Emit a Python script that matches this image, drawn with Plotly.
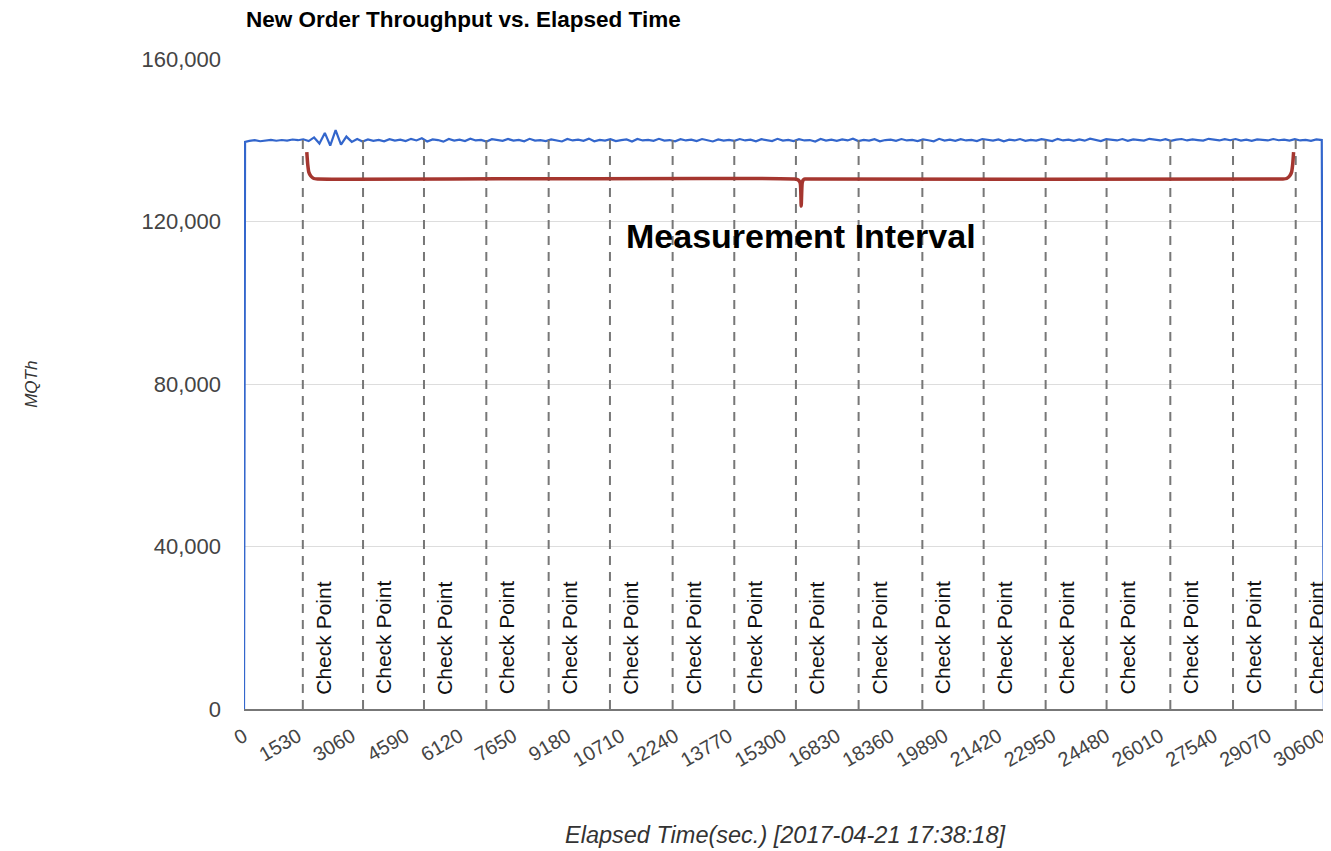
import plotly.graph_objects as go

FONT = "Arial, Liberation Sans, sans-serif"

# sample times (sec): start, ramp, regular 153-s samples, final drop
elapsed_sec = [0, 30] + list(range(153, 30601, 153)) + [30660]

throughput = [0, 139600,
    139850, 140020, 139760, 139940, 140110, 139880, 140060, 139920, 140180, 140010,
    140240, 139800, 140700, 139200, 141800, 138700, 142500, 138900, 140900, 139600,
    140300, 139700, 140200, 139850, 140100, 139750, 140250, 139900, 140150, 139800,
    140350, 139950, 140500, 139700, 140200, 140050, 139650, 140300, 139900, 140150,
    139800, 140400, 139950, 140100, 139700, 140250, 140000, 139850, 140300, 139900,
    140100, 139750, 140350, 139900, 140050, 139800, 140200, 140000, 139700, 140300,
    139950, 140150, 139850, 140400, 139750, 140100, 139900, 140250, 139800, 140050,
    140200, 139700, 140300, 139950, 140100, 139850, 140350, 139900, 140050, 139750,
    140250, 139950, 140150, 139800, 140300, 140000, 139700, 140200, 139900, 140100,
    139850, 140300, 139950, 140150, 139750, 140250, 140000, 139800, 140350, 139900,
    140100, 139800, 140250, 139950, 140050, 139700, 140300, 139900, 140150, 139850,
    140200, 139950, 140400, 139800, 140100, 139900, 140250, 139750, 140050, 140150,
    139850, 140300, 139950, 140100, 139800, 140200, 140000, 139750, 140350, 139900,
    140150, 139850, 140250, 139950, 140100, 139800, 140300, 140050, 139900, 140200,
    139750, 140150, 139950, 140300, 139850, 140100, 139900, 140250, 140000, 139800,
    140350, 139950, 140150, 139850, 140200, 139900, 140400, 140050, 139800, 140250,
    140100, 139950, 140300, 139850, 140200, 140000, 139900, 140350, 140100, 139950,
    140250, 139850, 140150, 140300, 139950, 140200, 140050, 139900, 140350, 140100,
    139950, 140250, 140000, 140300, 139900, 140150, 139850, 140200, 140050, 139950,
    140300, 140000, 140150, 139900, 140250, 139950, 140100, 139850, 140200, 140050,
    0]

x_ticks = [0, 1530, 3060, 4590, 6120, 7650, 9180, 10710, 12240, 13770, 15300,
           16830, 18360, 19890, 21420, 22950, 24480, 26010, 27540, 29070, 30600]
y_ticks = [0, 40000, 80000, 120000, 160000]

checkpoints = [1670, 3380, 5110, 6880, 8650, 10390, 12170, 13920, 15670,
               17450, 19260, 21000, 22760, 24490, 26300, 28080, 29860]
checkpoint_top = 140400
checkpoint_label = "Check Point"

brace_x = [1783, 1811, 1840, 1896, 1981, 2094,
           15622, 15735, 15791, 15820, 15848, 15876, 15905, 15961, 16074,
           29489, 29602, 29687, 29743, 29772, 29800]
brace_y = [137100, 133900, 132150, 131200, 130580, 130460,
           130460, 130210, 129470, 123810, 129470, 130210, 130460, 130460, 130460,
           130460, 130580, 131200, 132150, 133900, 137100]
brace_label = "Measurement Interval"
brace_label_y = 116400

title_text = "New Order Throughput vs. Elapsed Time"
x_title = "Elapsed Time(sec.) [2017-04-21 17:38:18]"
y_title = "MQTh"

fig = go.Figure()

fig.add_trace(go.Scatter(x=elapsed_sec, y=throughput, mode="lines",
                         line=dict(color="#3366cc", width=2.2), hoverinfo="skip"))

cp_x, cp_y = [], []
for c in checkpoints:
    cp_x += [c, c, None]
    cp_y += [0, checkpoint_top, None]
fig.add_trace(go.Scatter(x=cp_x, y=cp_y, mode="lines",
                         line=dict(color="#777777", width=2, dash="9px,7px"),
                         hoverinfo="skip"))

fig.add_trace(go.Scatter(x=brace_x, y=brace_y, mode="lines",
                         line=dict(color="#a5362f", width=3.5, shape="spline", smoothing=0.6),
                         hoverinfo="skip"))

annotations = []
for c in checkpoints:
    annotations.append(dict(x=c, y=17500, xref="x", yref="y", text=checkpoint_label,
                            textangle=-90, showarrow=False, xshift=21,
                            font=dict(family=FONT, size=21, color="#111111")))
annotations.append(dict(x=brace_x[9], y=brace_label_y, xref="x", yref="y",
                        text=brace_label, showarrow=False,
                        font=dict(family=FONT, size=34, color="#000000", weight="bold")))
annotations.append(dict(x=-0.197, y=0.5, xref="paper", yref="paper", text=y_title,
                        textangle=-90, showarrow=False, xanchor="center", yanchor="middle",
                        font=dict(family=FONT, size=17, color="#333333", style="italic")))
annotations.append(dict(x=0.5, y=-0.194, xref="paper", yref="paper", text=x_title,
                        showarrow=False, xanchor="center", yanchor="middle",
                        font=dict(family=FONT, size=23.5, color="#333333", style="italic")))
annotations.append(dict(x=0, y=(709 - 20) / 650, xref="paper", yref="paper",
                        text=title_text, showarrow=False, xanchor="left", yanchor="middle",
                        font=dict(family=FONT, size=22.5, color="#000000", weight="bold")))

# page body has an 8px margin, so the figure is offset accordingly
fig.update_layout(
    width=1323, height=843,
    margin=dict(l=236, r=2, t=51, b=142),
    paper_bgcolor="white", plot_bgcolor="white",
    showlegend=False,
    xaxis=dict(range=[0, 30720], tickvals=x_ticks, ticktext=[str(v) for v in x_ticks],
               tickangle=-30, showgrid=False, zeroline=False,
               showline=True, linecolor="#777777", linewidth=2,
               ticks="", ticklabelstandoff=6, ticklabeloverflow="allow",
               tickfont=dict(family=FONT, size=20, color="#444444")),
    yaxis=dict(range=[0, 160000], tickvals=y_ticks, tickformat=",",
               showgrid=True, gridcolor="#dddddd", gridwidth=1, zeroline=False,
               showline=False, ticks="", ticklabelstandoff=22,
               tickfont=dict(family=FONT, size=22, color="#444444")),
    annotations=annotations,
)

fig.write_html("out.html")
